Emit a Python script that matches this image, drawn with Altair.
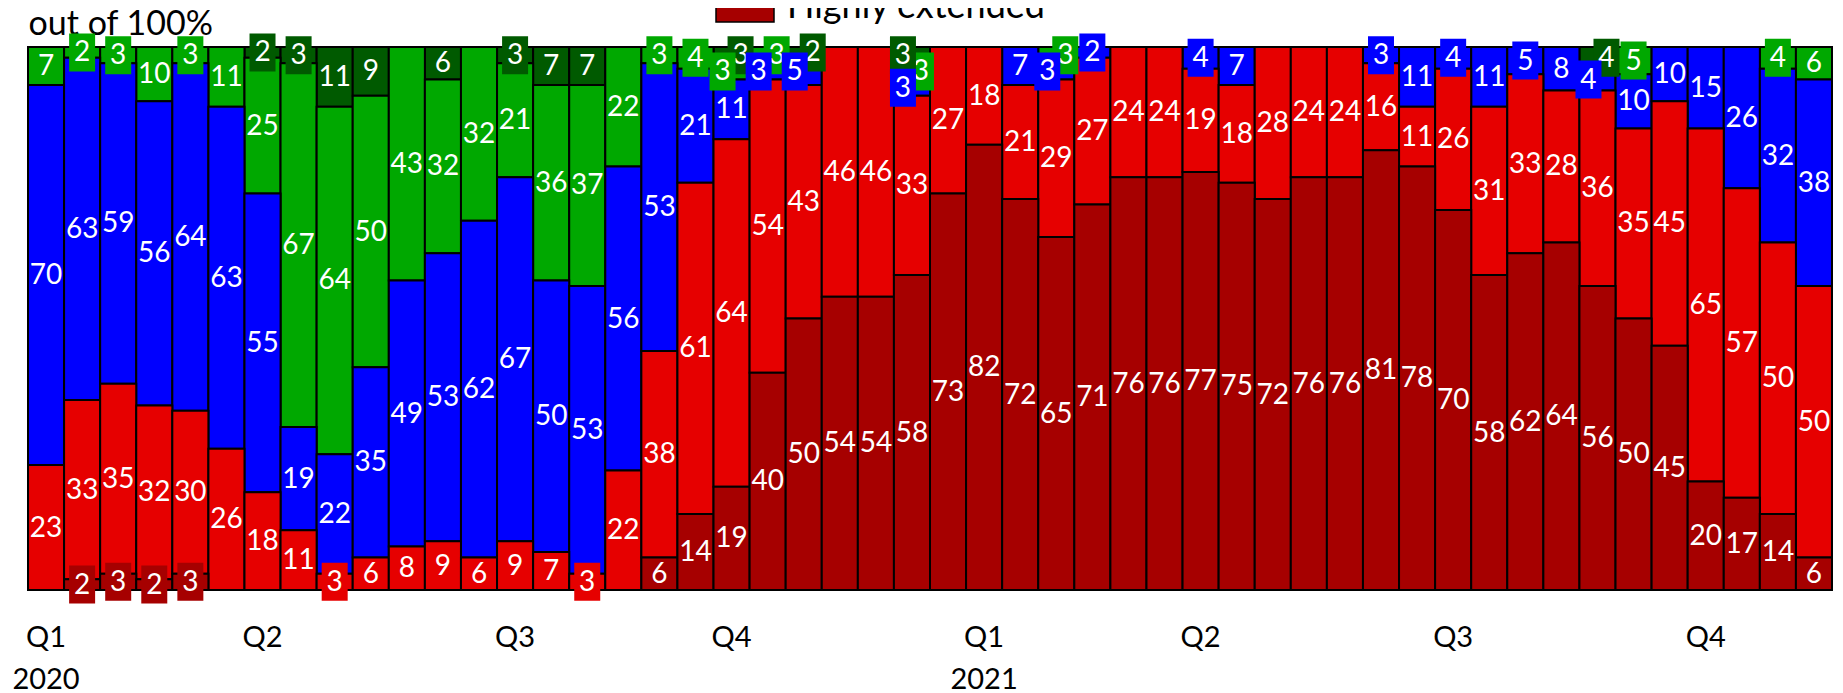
import json
import altair as alt
import pandas as pd

# ---------------- data ----------------
series_names = ["Highly slack", "Slack", "Normal", "Extended", "Highly extended"]
series_colors = ["#005A00", "#00A800", "#0000FF", "#E60000", "#A60000"]

highly_slack = [0, 0, 0, 0, 0, 0, 2, 3, 11, 9,
                0, 6, 0, 3, 7, 7, 0, 0, 0, 3,
                0, 2, 0, 0, 3, 0, 0, 0, 0, 0,
                0, 0, 0, 0, 0, 0, 0, 0, 0, 0,
                0, 0, 0, 4, 0, 0, 0, 0, 0, 0]
slack = [7, 2, 3, 10, 3, 11, 25, 67, 64, 50,
         43, 32, 32, 21, 36, 37, 22, 3, 4, 3,
         3, 0, 0, 0, 3, 0, 0, 0, 3, 0,
         0, 0, 0, 0, 0, 0, 0, 0, 0, 0,
         0, 0, 0, 0, 5, 0, 0, 0, 4, 6]
normal = [70, 63, 59, 56, 64, 63, 55, 19, 22, 35,
          49, 53, 62, 67, 50, 53, 56, 53, 21, 11,
          3, 5, 0, 0, 3, 0, 0, 7, 3, 2,
          0, 0, 4, 7, 0, 0, 0, 3, 11, 4,
          11, 5, 8, 4, 10, 10, 15, 26, 32, 38]
extended = [23, 33, 35, 32, 30, 26, 18, 11, 3, 6,
            8, 9, 6, 9, 7, 3, 22, 38, 61, 64,
            54, 43, 46, 46, 33, 27, 18, 21, 29, 27,
            24, 24, 19, 18, 28, 24, 24, 16, 11, 26,
            31, 33, 28, 36, 35, 45, 65, 57, 50, 50]
highly_extended = [0, 2, 3, 2, 3, 0, 0, 0, 0, 0,
                   0, 0, 0, 0, 0, 0, 0, 6, 14, 19,
                   40, 50, 54, 54, 58, 73, 82, 72, 65, 71,
                   76, 76, 77, 75, 72, 76, 76, 81, 78, 70,
                   58, 62, 64, 56, 50, 45, 20, 17, 14, 6]

tick_bars = [1, 7, 14, 20, 27, 33, 40, 47]
tick_labels = ["Q1\n2020", "Q2", "Q3", "Q4", "Q1\n2021", "Q2", "Q3", "Q4"]
unit_title = "out of 100%"

# ---------------- build long table ----------------
series_values = [highly_slack, slack, normal, extended, highly_extended]
color_of = dict(zip(series_names, series_colors))
SMALL = 5
SHIFT = 9

rows = []
for i in range(len(extended)):
    cum = 0
    segs = []
    for name, vals in reversed(list(zip(series_names, series_values))):
        v = vals[i]
        if v > 0:
            segs.append(dict(bar=i + 1, series=name, value=v, label=str(v),
                             y0=cum, y1=cum + v, mid=cum + v / 2.0,
                             hex=color_of[name], small=int(v <= SMALL),
                             shift=0, rank=series_names.index(name)))
        cum += v
    segs_top = sorted(segs, key=lambda d: -d["y1"])
    run = []

    def flush(run):
        if len(run) > 1:
            for k, d in enumerate(reversed(run)):
                d["shift"] = -SHIFT if k % 2 == 0 else SHIFT

    for d in segs_top:
        if d["small"]:
            run.append(d)
        else:
            flush(run)
            run = []
    flush(run)
    rows.extend(segs_top)

df = pd.DataFrame(rows)

# ---------------- axis label expression ----------------
expr = ""
for b, lab in zip(tick_bars, tick_labels):
    parts = lab.split("\n")
    lit = json.dumps(parts) if len(parts) > 1 else json.dumps(lab)
    expr += f"datum.value == {b} ? {lit} : "
expr += "''"

FONT = "Lato"
x_enc = alt.X(
    "bar:O",
    scale=alt.Scale(paddingInner=0, paddingOuter=0),
    axis=alt.Axis(values=tick_bars, labelExpr=expr, title=None, labelAngle=0,
                  ticks=False, tickSize=0, domain=False, labelFont=FONT,
                  labelFontSize=29, labelColor="black", labelPadding=33,
                  labelLineHeight=42, labelBaseline="top"),
)
y_scale = alt.Scale(domain=[0, 100], nice=False)
y_axis = alt.Axis(title=unit_title, labels=False, ticks=False, domain=False,
                  grid=False, titleAngle=0, titleX=0, titleY=-13,
                  titleAlign="left", titleBaseline="alphabetic", titleFont=FONT,
                  titleFontSize=34, titleFontWeight="normal", titleColor="black")


def ypos(field):
    return alt.Y(field, scale=y_scale, axis=y_axis)


base = alt.Chart(df)

bars = base.mark_bar(stroke="black", strokeWidth=2).encode(
    x=x_enc,
    y=ypos("y1:Q"),
    y2="y0:Q",
    color=alt.Color(
        "series:N",
        scale=alt.Scale(domain=series_names, range=series_colors),
        legend=alt.Legend(orient="none", legendX=687, legendY=-70,
                          values=["Highly extended"], title=None,
                          symbolType="M-1,-0.52H1V0.52H-1Z", symbolSize=3364,
                          symbolStrokeColor="black", symbolStrokeWidth=1.5,
                          symbolOpacity=1, labelFont=FONT, labelFontSize=36,
                          labelColor="black", labelOffset=12, padding=0,
                          labelLimit=500),
    ),
    order=alt.Order("rank:Q"),
)

big_labels = base.transform_filter("datum.small == 0").mark_text(
    color="white", font=FONT, fontSize=28, baseline="middle", align="center", dy=1
).encode(x="bar:O", y=ypos("mid:Q"), text="label:N")

BOX = "M-0.684,-1H0.684V1H-0.684Z"
layers = [bars, big_labels]
for sh in [0, SHIFT, -SHIFT]:
    sub = base.transform_filter(f"datum.small == 1 && datum.shift == {sh}")
    boxes = sub.mark_point(shape=BOX, size=1444, filled=True, opacity=1,
                           strokeWidth=0, xOffset=sh).encode(
        x="bar:O", y=ypos("mid:Q"),
        fill=alt.Fill("hex:N", scale=None))
    texts = sub.mark_text(color="white", font=FONT, fontSize=28,
                          baseline="middle", align="center", dx=sh, dy=1).encode(
        x="bar:O", y=ypos("mid:Q"), text="label:N")
    layers += [boxes, texts]

chart = alt.layer(*layers).properties(
    width=1804,
    height=543,
    autosize=alt.AutoSizeParams(type="none"),
    padding={"left": 20, "top": 39, "right": 3, "bottom": 100},
).configure_view(stroke="#cccccc", strokeWidth=1)

chart.save("out.html", embed_options={"renderer": "svg", "actions": False})
